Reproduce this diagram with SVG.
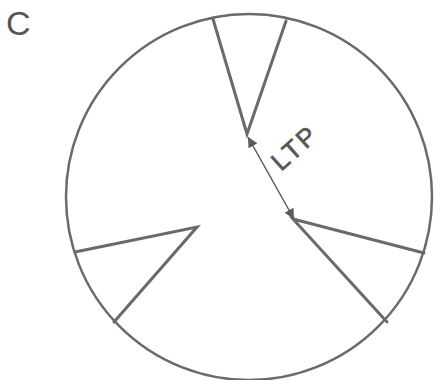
<svg xmlns="http://www.w3.org/2000/svg" width="435" height="380" viewBox="0 0 435 380">
<style>
.ln{fill:none;stroke:#6a6a6a;stroke-width:3;stroke-linejoin:miter;stroke-linecap:round}
.circ{fill:none;stroke:#6a6a6a;stroke-width:2.5}
.arr{stroke:#5a5a5a;stroke-width:1.5;fill:none}
.t{font-family:"Liberation Sans",Arial,sans-serif;fill:#555}
</style>
<defs>
<marker id="ah" viewBox="0 0 10 10" refX="10" refY="5" markerWidth="12" markerHeight="10" markerUnits="userSpaceOnUse" orient="auto-start-reverse">
<path d="M0,0 L10,5 L0,10 z" fill="#5a5a5a"/>
</marker>
</defs>
<rect width="435" height="380" fill="#fff"/>
<text class="t" x="6" y="35" font-size="34">C</text>
<g id="circle"><circle class="circ" cx="249" cy="197" r="183"/></g>
<g id="wedge-top"><polyline class="ln" points="213,19 247,134 286,21"/></g>
<g id="wedge-left"><polyline class="ln" points="75,252 197,227 114,322"/></g>
<g id="wedge-right"><polyline class="ln" points="424,253 293,219 387,322"/></g>
<g id="connectors">
<line class="arr" x1="248" y1="137" x2="294" y2="219" marker-start="url(#ah)" marker-end="url(#ah)"/>
</g>
<g id="label"><text class="t" x="0" y="0" font-size="26" letter-spacing="2.5" stroke="#555" stroke-width="0.6" transform="translate(281,172) rotate(-42)">LTP</text></g>
</svg>
